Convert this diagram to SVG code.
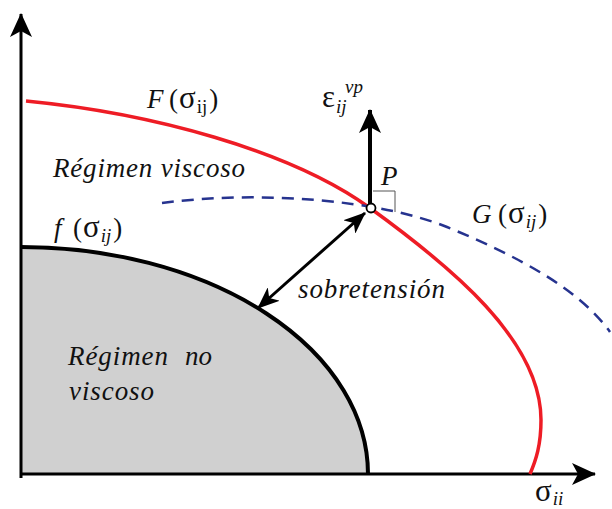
<svg xmlns="http://www.w3.org/2000/svg" width="612" height="509" viewBox="0 0 612 509">
<style>
text{font-family:"Liberation Serif","Times New Roman",serif;font-size:27px;fill:#111}
.i{font-style:italic}
.s{font-size:19px}
.g{font-size:31px}
.axis{stroke:#000;stroke-width:3;fill:none}
</style>
<defs>
<marker id="ah" viewBox="0 0 24 22" refX="23" refY="11" markerWidth="24" markerHeight="22" markerUnits="userSpaceOnUse" orient="auto-start-reverse">
<path d="M0,0 L24,11 L0,22 L6,11 Z" fill="#000"/>
</marker>
<marker id="ah2" viewBox="0 0 22 18" refX="21" refY="9" markerWidth="22" markerHeight="18" markerUnits="userSpaceOnUse" orient="auto-start-reverse">
<path d="M0,0 L22,9 L0,18 L6,9 Z" fill="#000"/>
</marker>
</defs>
<rect width="612" height="509" fill="#fff"/>
<g id="region-no-viscoso">
<path d="M21,247 A347,227 0 0 1 368,474 L21,474 Z" fill="#d0d0d0"/>
</g>
<g id="axes">
<line class="axis" x1="21" y1="478" x2="21" y2="14" marker-end="url(#ah)"/>
<line class="axis" x1="20" y1="474" x2="595" y2="474" marker-end="url(#ah)"/>
</g>
<g id="curve-f">
<path d="M21,247 A347,227 0 0 1 368,474" fill="none" stroke="#000" stroke-width="4"/>
</g>
<g id="curve-F">
<path d="M26,101 C150,113 290,150 370,208 C450,266 541,340 541,420 C541,445 536,460 530,474" fill="none" stroke="#ee1c25" stroke-width="3.5"/>
</g>
<g id="curve-G">
<path d="M162,203 C260,190 380,200 447,227 C520,257 580,290 610,332" fill="none" stroke="#26338f" stroke-width="2.5" stroke-dasharray="12,8"/>
</g>
<g id="connectors">
<line x1="370" y1="208" x2="370" y2="110" stroke="#000" stroke-width="4" marker-end="url(#ah)"/>
<line x1="365" y1="213" x2="258" y2="308" stroke="#000" stroke-width="3" marker-start="url(#ah2)" marker-end="url(#ah2)"/>
<polyline points="373,191 395,191 395,212" fill="none" stroke="#555" stroke-width="1"/>
</g>
<g id="point-P">
<circle cx="371" cy="208" r="4.5" fill="#fff" stroke="#000" stroke-width="1.8"/>
<text class="i" x="381" y="185">P</text>
</g>
<g id="labels">
<text y="108"><tspan class="i" x="147">F</tspan><tspan x="169">(</tspan><tspan class="g" dx="1">σ</tspan><tspan class="s" dx="1" dy="5">ij</tspan><tspan dx="2" dy="-5">)</tspan></text>
<text class="i" x="53" y="177" textLength="192" lengthAdjust="spacing">Régimen viscoso</text>
<text y="237"><tspan class="i" x="54">f</tspan><tspan x="73">(</tspan><tspan class="g" dx="1">σ</tspan><tspan class="i s" dx="1" dy="5">ij</tspan><tspan dx="2" dy="-5">)</tspan></text>
<text y="107"><tspan class="g" x="322">ε</tspan><tspan class="i s" dx="1" dy="6">ij</tspan><tspan class="i s" x="345" dy="-20">vp</tspan></text>
<text y="223"><tspan class="i" x="472">G</tspan><tspan x="498">(</tspan><tspan class="g" dx="1">σ</tspan><tspan class="i s" dx="1" dy="5">ij</tspan><tspan dx="2" dy="-5">)</tspan></text>
<text class="i" x="298" y="298" textLength="147" lengthAdjust="spacing">sobretensión</text>
<text class="i" x="68" y="365" textLength="100" lengthAdjust="spacing">Régimen</text>
<text class="i" x="185" y="365">no</text>
<text class="i" x="69" y="400" textLength="85" lengthAdjust="spacing">viscoso</text>
<text y="501"><tspan class="g" x="535">σ</tspan><tspan class="i s" dx="1" dy="4">ii</tspan></text>
</g>
</svg>
